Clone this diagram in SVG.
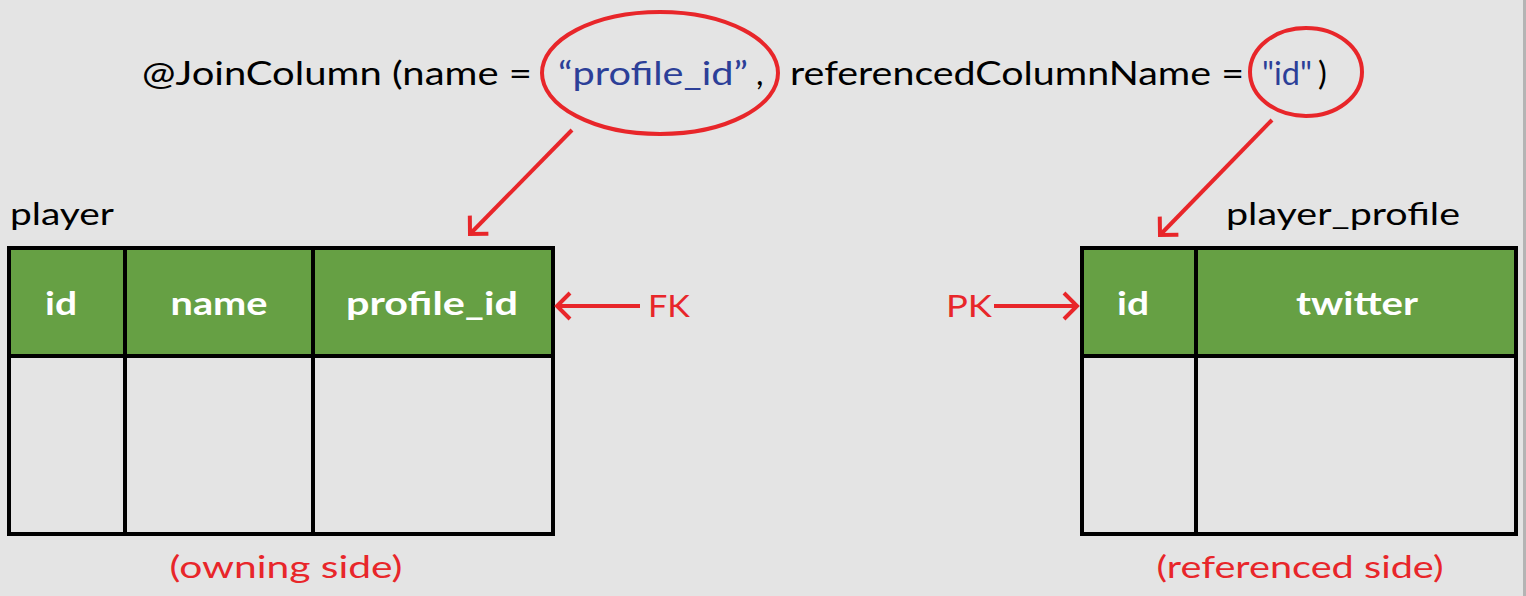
<svg xmlns="http://www.w3.org/2000/svg" width="1526" height="596" viewBox="0 0 1526 596">
<defs>
<style>
.t{font-family:Lato,"Open Sans","Liberation Sans",sans-serif;}
.blk{fill:#000;font-size:33px;}
.blu{fill:#2c3f98;font-size:33px;}
.red{fill:#e8262a;font-size:31px;}
.lbl{fill:#000;font-size:31px;}
.hdr{fill:#fff;font-size:32px;font-weight:bold;text-anchor:middle;}
.hd{fill:#66a044;stroke:none;}
.grid{fill:none;stroke:#000;stroke-width:4;}
.ell{fill:none;stroke:#e8262a;stroke-width:4;}
.arr{fill:none;stroke:#e8262a;stroke-width:4;}
</style>
<marker id="ah" viewBox="0 0 24 30" refX="19" refY="15" markerWidth="24" markerHeight="30" markerUnits="userSpaceOnUse" orient="auto" overflow="visible">
<path d="M6,2 L19,15 L6,28" fill="none" stroke="#e8262a" stroke-width="4"/>
</marker>
</defs>
<rect x="0" y="0" width="1526" height="596" fill="#e4e4e4"/>
<rect x="1523" y="0" width="3" height="596" fill="#b4b4b4"/>

<g id="annotation">
<text class="t blk" x="142" y="85" textLength="390" lengthAdjust="spacingAndGlyphs">@JoinColumn (name =</text>
<text class="t blu" x="558" y="85" textLength="190" lengthAdjust="spacingAndGlyphs">“profile_id”</text>
<text class="t blk" x="756" y="85">,</text>
<text class="t blk" x="790" y="85" textLength="454" lengthAdjust="spacingAndGlyphs">referencedColumnName =</text>
<text class="t blu" x="1262" y="85" textLength="50" lengthAdjust="spacingAndGlyphs">"id"</text>
<text class="t blk" x="1318" y="85">)</text>
<ellipse class="ell" cx="660" cy="73" rx="118" ry="61"/>
<ellipse class="ell" cx="1306" cy="72" rx="56" ry="44"/>
</g>

<g id="player">
<text class="t lbl" x="10" y="225" textLength="104" lengthAdjust="spacingAndGlyphs">player</text>
<rect class="hd" x="9" y="248" width="544" height="108"/>
<rect class="grid" x="9" y="248" width="544" height="286"/>
<line class="grid" x1="9" y1="356" x2="553" y2="356"/>
<line class="grid" x1="125" y1="248" x2="125" y2="534"/>
<line class="grid" x1="313" y1="248" x2="313" y2="534"/>
<text class="t hdr" x="61" y="315" textLength="32" lengthAdjust="spacingAndGlyphs">id</text>
<text class="t hdr" x="219" y="315" textLength="97" lengthAdjust="spacingAndGlyphs">name</text>
<text class="t hdr" x="432" y="315" textLength="172" lengthAdjust="spacingAndGlyphs">profile_id</text>
<text class="t red" x="286" y="578" text-anchor="middle" textLength="233" lengthAdjust="spacingAndGlyphs">(owning side)</text>
</g>

<g id="player_profile">
<text class="t lbl" x="1226" y="225" textLength="234" lengthAdjust="spacingAndGlyphs">player_profile</text>
<rect class="hd" x="1082" y="248" width="434" height="108"/>
<rect class="grid" x="1082" y="248" width="434" height="286"/>
<line class="grid" x1="1082" y1="356" x2="1516" y2="356"/>
<line class="grid" x1="1196" y1="248" x2="1196" y2="534"/>
<text class="t hdr" x="1133" y="315" textLength="32" lengthAdjust="spacingAndGlyphs">id</text>
<text class="t hdr" x="1357" y="315" textLength="122" lengthAdjust="spacingAndGlyphs">twitter</text>
<text class="t red" x="1300" y="578" text-anchor="middle" textLength="287" lengthAdjust="spacingAndGlyphs">(referenced side)</text>
</g>

<g id="fk">
<text class="t red" x="648" y="317" textLength="42" lengthAdjust="spacingAndGlyphs">FK</text>
</g>
<g id="pk">
<text class="t red" x="946" y="317" textLength="46" lengthAdjust="spacingAndGlyphs">PK</text>
</g>

<g id="connectors">
<line class="arr" x1="572" y1="130" x2="470" y2="234" marker-end="url(#ah)"/>
<line class="arr" x1="1272" y1="120" x2="1160" y2="235" marker-end="url(#ah)"/>
<line class="arr" x1="640" y1="306" x2="557" y2="306" marker-end="url(#ah)"/>
<line class="arr" x1="994" y1="306" x2="1077" y2="306" marker-end="url(#ah)"/>
</g>
</svg>
